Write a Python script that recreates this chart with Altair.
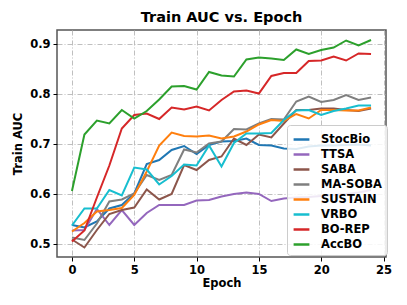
import altair as alt
import pandas as pd

epochs = list(range(25))
series = ["StocBio", "TTSA", "SABA", "MA-SOBA", "SUSTAIN", "VRBO", "BO-REP", "AccBO"]
colors = ["#1f77b4", "#9467bd", "#8c564b", "#7f7f7f", "#ff7f0e", "#17becf", "#d62728", "#2ca02c"]

stocbio = [0.538, 0.533, 0.545, 0.571, 0.578, 0.601, 0.660, 0.668, 0.688, 0.696, 0.680, 0.698, 0.705,
           0.706, 0.711, 0.698, 0.697, 0.691, 0.690, 0.695, 0.697, 0.697, 0.698, 0.699, 0.697]
ttsa = [0.527, 0.528, 0.570, 0.538, 0.568, 0.538, 0.562, 0.578, 0.578, 0.578, 0.587, 0.588, 0.595,
        0.600, 0.603, 0.600, 0.586, 0.591, 0.593, 0.594, 0.596, 0.598, 0.600, 0.603, 0.608]
saba = [0.509, 0.493, 0.528, 0.560, 0.568, 0.573, 0.609, 0.589, 0.600, 0.658, 0.648, 0.668, 0.675,
        0.711, 0.698, 0.719, 0.713, 0.741, 0.768, 0.768, 0.771, 0.771, 0.768, 0.766, 0.771]
masoba = [0.513, 0.508, 0.541, 0.585, 0.589, 0.601, 0.638, 0.628, 0.638, 0.689, 0.683, 0.701, 0.705,
          0.730, 0.729, 0.741, 0.750, 0.749, 0.785, 0.795, 0.784, 0.788, 0.798, 0.788, 0.793]
sustain = [0.525, 0.542, 0.565, 0.568, 0.572, 0.598, 0.645, 0.697, 0.723, 0.716, 0.715, 0.717, 0.711,
           0.715, 0.725, 0.739, 0.748, 0.746, 0.760, 0.751, 0.768, 0.768, 0.767, 0.767, 0.773]
vrbo = [0.537, 0.571, 0.571, 0.608, 0.597, 0.653, 0.649, 0.619, 0.636, 0.659, 0.657, 0.697, 0.655,
        0.702, 0.721, 0.721, 0.722, 0.748, 0.767, 0.768, 0.758, 0.766, 0.771, 0.777, 0.777]
borep = [0.505, 0.527, 0.593, 0.657, 0.731, 0.758, 0.761, 0.750, 0.773, 0.769, 0.775, 0.767, 0.788,
         0.805, 0.807, 0.801, 0.836, 0.842, 0.842, 0.866, 0.867, 0.875, 0.867, 0.881, 0.880]
accbo = [0.606, 0.719, 0.747, 0.741, 0.768, 0.751, 0.766, 0.789, 0.815, 0.816, 0.809, 0.844, 0.837,
         0.835, 0.869, 0.873, 0.871, 0.868, 0.889, 0.880, 0.888, 0.893, 0.907, 0.897, 0.908]

values = [stocbio, ttsa, saba, masoba, sustain, vrbo, borep, accbo]
x_ticks = [0, 5, 10, 15, 20, 25]
y_ticks = [0.5, 0.6, 0.7, 0.8, 0.9]

rows = []
for name, vals in zip(series, values):
    for e, v in zip(epochs, vals):
        rows.append({"Epoch": e, "AUC": v, "Method": name})
df = pd.DataFrame(rows)

FONT = "DejaVu Sans"

chart = alt.Chart(df).mark_line(strokeWidth=2).encode(
    x=alt.X("Epoch:Q", scale=alt.Scale(domain=[-1.2, 25.2], nice=False, zero=False),
            axis=alt.Axis(values=x_ticks, title="Epoch", format="d")),
    y=alt.Y("AUC:Q", scale=alt.Scale(domain=[0.474, 0.928], nice=False, zero=False),
            axis=alt.Axis(values=y_ticks, title="Train AUC", format=".1f")),
    color=alt.Color("Method:N", sort=series,
                    scale=alt.Scale(domain=series, range=colors),
                    legend=alt.Legend(title=None, orient="none", legendX=230, legendY=95,
                                      symbolType="stroke", symbolSize=250, symbolStrokeWidth=2.5,
                                      labelFontWeight="bold", labelFontSize=11.5, labelFont=FONT,
                                      labelColor="black", labelOffset=10,
                                      fillColor="rgba(255,255,255,0.85)", strokeColor="#cccccc",
                                      cornerRadius=3, padding=5, rowPadding=0)),
    detail="Method:N",
).properties(
    width=329, height=227,
    title=alt.Title("Train AUC vs. Epoch", font=FONT, fontSize=14.5, fontWeight="bold",
                    color="black", anchor="middle", offset=5),
    padding={"left": 49, "top": 22, "right": 10, "bottom": 45},
    autosize="none",
).configure_view(
    stroke="#555555", strokeWidth=1.5
).configure_axis(
    labelFont=FONT, labelFontSize=11.5, labelFontWeight="bold", labelColor="black",
    titleFont=FONT, titleFontSize=11.5, titleFontWeight="bold", titleColor="black",
    tickColor="black", tickSize=4, domain=False,
    grid=True, gridColor="#b8b8b8", gridDash=[5, 2, 1, 2], gridWidth=0.9,
    labelPadding=3,
).configure_axisX(titlePadding=2).configure_axisY(titlePadding=6)

chart.save("out.html", embed_options={"renderer": "svg", "actions": False})
